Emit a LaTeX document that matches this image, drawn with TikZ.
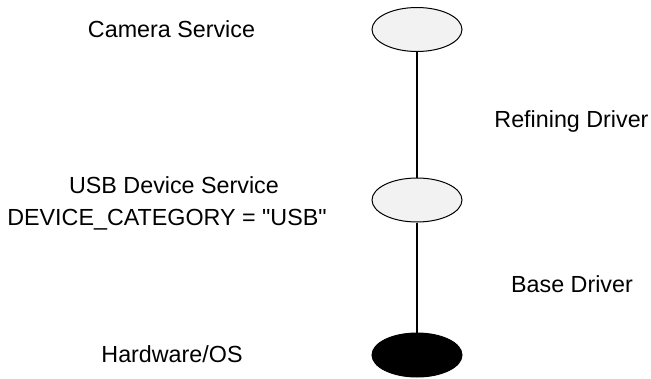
\documentclass[tikz,border=0pt]{standalone}
\usepackage{fontspec}
\setmainfont[Ligatures=TeXOff]{Liberation Sans}
\usetikzlibrary{shapes.geometric}
\begin{document}
\begin{tikzpicture}[x=1pt,y=-1pt,
  lbl/.style={anchor=base,inner sep=0pt,font=\fontsize{23.3}{28}\selectfont},
  layer/.style={ellipse,draw=black,line width=1pt,fill=black!5,
    minimum width=90pt,minimum height=44pt,inner sep=0pt},
  baselayer/.style={layer,fill=black},
  link/.style={line width=1.3pt}]
  \useasboundingbox (0,0) rectangle (651,378);
  % driver stack
  \node[layer] (cam) at (417,29.5) {};
  \node[layer] (usb) at (417,200) {};
  \node[baselayer] (hw) at (417,355) {};
  \draw[link] (cam) -- (usb);
  \draw[link] (usb) -- (hw);
  % labels
  \node[lbl] (tcam) at (171.5,37) {Camera Service};
  \node[lbl] (tusb) at (174,193) {USB Device Service};
  \node[lbl] (tcat) at (167,225) {DEVICE\_CATEGORY = "USB"};
  \node[lbl] (thw) at (172,362) {Hardware/OS};
  \node[lbl] (tref) at (571.5,127) {Refining Driver};
  \node[lbl] (tbase) at (572,292) {Base Driver};
\end{tikzpicture}
\end{document}
